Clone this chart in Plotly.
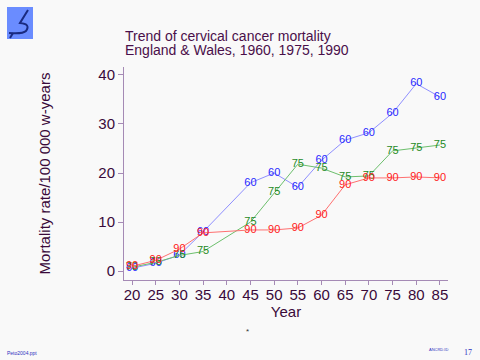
import plotly.graph_objects as go

ages = [20, 25, 30, 35, 45, 50, 55, 60, 65, 70, 75, 80, 85]
rate_1960 = [0.6, 1.6, 3.3, 8.0, 18.0, 20.0, 17.1, 22.6, 26.7, 28.2, 32.2, 38.2, 35.5]
rate_1975 = [0.8, 1.8, 3.2, 4.0, 10.0, 16.0, 21.8, 21.0, 19.2, 19.4, 24.5, 25.1, 25.7]
rate_1990 = [1.0, 2.2, 4.5, 7.8, 8.4, 8.4, 8.8, 11.4, 17.6, 19.0, 19.0, 19.2, 19.0]
labels = ["60", "75", "90"]
x_ticks = [20, 25, 30, 35, 40, 45, 50, 55, 60, 65, 70, 75, 80, 85]
y_ticks = [0, 10, 20, 30, 40]

W, H = 480, 360
L, R, T, B = 124, 32, 67, 80
pw, ph = W - L - R, H - T - B

def px(X):
    return (X - L) / pw

def py(Y):
    return (H - B - Y) / ph

series = [
    (rate_1960, labels[0], "#8f8fff", "#2828ff"),
    (rate_1975, labels[1], "#6cbf6c", "#1f8a1f"),
    (rate_1990, labels[2], "#ff7070", "#ff2020"),
]

fig = go.Figure()
for vals, lab, lc, tc in series:
    fig.add_trace(go.Scatter(
        x=ages, y=vals, mode="lines+text",
        text=[lab] * len(ages), textposition="middle center",
        textfont=dict(family="Liberation Sans, Arial, sans-serif", size=11, color=tc),
        line=dict(color=lc, width=1), showlegend=False, cliponaxis=False,
    ))

purple = "#3a0a3a"
axis_col = "#a58ab5"

fig.update_layout(
    width=W, height=H,
    margin=dict(l=L, r=R, t=T, b=B),
    paper_bgcolor="#f9f9f9", plot_bgcolor="#f9f9f9",
    font=dict(family="Liberation Sans, Arial, sans-serif", color=purple),
    xaxis=dict(range=[18.3, 86.7], tickvals=x_ticks, ticktext=[str(v) for v in x_ticks],
               showgrid=False, zeroline=False, showline=True, linecolor=axis_col,
               ticks="outside", ticklen=4, tickcolor=axis_col, ticklabelstandoff=-3,
               tickfont=dict(size=15, color=purple),
               title=dict(text="Year", font=dict(size=15, color=purple), standoff=0)),
    yaxis=dict(range=[-1.8, 41.6], tickvals=y_ticks,
               showgrid=False, zeroline=False, showline=True, linecolor=axis_col,
               ticks="outside", ticklen=5, tickcolor=axis_col,
               tickfont=dict(size=15, color=purple),
               title=dict(text="Mortality rate/100 000 w-years", font=dict(size=15, color=purple), standoff=44)),
)

title_font = dict(size=14, color="#4a0f4a")
fig.add_annotation(xref="paper", yref="paper", x=px(123), y=py(36), xanchor="left", yanchor="middle",
                   text="Trend of cervical cancer mortality", showarrow=False, font=title_font)
fig.add_annotation(xref="paper", yref="paper", x=px(123), y=py(50), xanchor="left", yanchor="middle",
                   text="England &amp; Wales, 1960, 1975, 1990", showarrow=False, font=title_font)

# logo
fig.add_shape(type="rect", xref="paper", yref="paper",
              x0=px(7), x1=px(33), y0=py(39), y1=py(7),
              fillcolor="#6a8cff", line=dict(width=0), layer="above")
logo_path = "M {} {} L {} {} Q {} {} {} {} Q {} {} {} {} L {} {}".format(
    px(28), py(10), px(20), py(23),
    px(31), py(24), px(26), py(31),
    px(23), py(34), px(9), py(33),
    px(9), py(33))
fig.add_shape(type="path", xref="paper", yref="paper", path=logo_path,
              line=dict(color="#1a2a80", width=2), layer="above")
fig.add_shape(type="line", xref="paper", yref="paper",
              x0=px(10), y0=py(38), x1=px(13), y1=py(33),
              line=dict(color="#1a2a80", width=2), layer="above")

fig.add_annotation(xref="paper", yref="paper", x=px(5), y=py(353), xanchor="left", yanchor="middle",
                   text="Peto2004.ppt", showarrow=False, font=dict(size=5, color="#3030c0"))
fig.add_annotation(xref="paper", yref="paper", x=px(247), y=py(331), xanchor="center", yanchor="middle",
                   text="*", showarrow=False, font=dict(size=8, color="#333333"))
fig.add_annotation(xref="paper", yref="paper", x=px(438), y=py(349), xanchor="center", yanchor="middle",
                   text="ANCRD.ID", showarrow=False, font=dict(size=4, color="#3030c0"))
fig.add_annotation(xref="paper", yref="paper", x=px(468), y=py(352), xanchor="center", yanchor="middle",
                   text="17", showarrow=False, font=dict(size=8, family="Liberation Serif, serif", color="#3030c0"))

fig.write_html("out.html", config={"displayModeBar": False},
               post_script="document.body.style.margin='0';document.body.style.overflow='hidden';")
